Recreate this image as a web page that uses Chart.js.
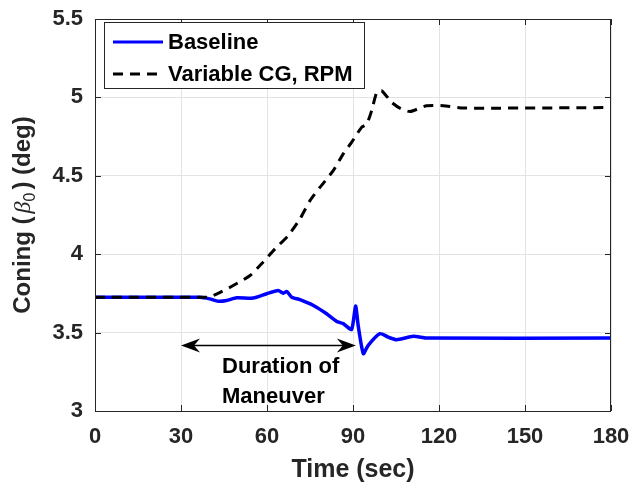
<!DOCTYPE html>
<html>
<head>
<meta charset="utf-8">
<script src="https://cdn.jsdelivr.net/npm/chart.js@4.4.0/dist/chart.umd.min.js"></script>
<style>
  html, body { margin: 0; padding: 0; background: #fff; }
  #wrap { width: 635px; height: 490px; }
</style>
</head>
<body>
<div id="wrap"><canvas id="coningChart" width="635" height="490"></canvas></div>
<script>
// Values
const baselineTime = [0, 36.6, 40, 43, 45.9, 49.4, 55.2, 59.9, 63.9, 65.7, 66.9, 68.6, 71.5, 76.2, 80.8, 84.3, 86.6, 89.5, 90.9, 91.8, 93.6, 95.3, 99.4, 102.3, 105.2, 111, 115.7, 180];
const baselineConing = [3.725, 3.725, 3.715, 3.70, 3.705, 3.722, 3.72, 3.748, 3.768, 3.751, 3.762, 3.726, 3.71, 3.673, 3.62, 3.571, 3.557, 3.52, 3.669, 3.546, 3.366, 3.419, 3.493, 3.471, 3.455, 3.476, 3.465, 3.465];

const variableTime = [0, 38, 40.1, 44, 48.2, 54.1, 58.1, 62.8, 67.4, 71.5, 75, 78.5, 83.1, 86.6, 89.5, 93, 94.8, 96.5, 98.3, 100, 103.5, 106.5, 109.9, 115.7, 121.5, 128.5, 180];
const variableConing = [3.725, 3.725, 3.728, 3.76, 3.80, 3.864, 3.939, 4.034, 4.119, 4.225, 4.342, 4.427, 4.533, 4.64, 4.713, 4.809, 4.83, 4.915, 5.032, 5.043, 4.968, 4.93, 4.91, 4.947, 4.947, 4.932, 4.935];

const xTicks = [0, 30, 60, 90, 120, 150, 180];
const yTicks = [3, 3.5, 4, 4.5, 5, 5.5];
const seriesLabels = ['Baseline', 'Variable CG, RPM'];

// "Duration of Maneuver" annotation
const arrowSpan = [30, 91];
const arrowLevel = 3.418;
const noteLines = ['Duration of', 'Maneuver'];
const noteX = 44.3;
const noteY = [3.28, 3.089];

const FONT = "'Liberation Sans', Arial, Helvetica, sans-serif";
const AXIS_COLOR = '#262626';

function toPoints(xs, ys) {
    return xs.map((x, i) => ({ x: x, y: ys[i] }));
}

// grid box, inward ticks, y title, annotation, legend
const decorations = {
    id: 'decorations',
    afterDatasetsDraw(chart) {
        const ctx = chart.ctx;
        const area = chart.chartArea;
        const xs = chart.scales.x;
        const ys = chart.scales.y;

        ctx.save();
        ctx.strokeStyle = AXIS_COLOR;
        ctx.lineWidth = 1;
        ctx.strokeRect(area.left + 0.5, area.top + 0.5, area.right - area.left - 1, area.bottom - area.top);

        const tick = 6;
        ctx.beginPath();
        xTicks.forEach(v => {
            const px = Math.round(xs.getPixelForValue(v)) + 0.5;
            ctx.moveTo(px, area.bottom); ctx.lineTo(px, area.bottom - tick);
            ctx.moveTo(px, area.top); ctx.lineTo(px, area.top + tick);
        });
        yTicks.forEach(v => {
            const py = Math.round(ys.getPixelForValue(v)) + 0.5;
            ctx.moveTo(area.left, py); ctx.lineTo(area.left + tick, py);
            ctx.moveTo(area.right, py); ctx.lineTo(area.right - tick, py);
        });
        ctx.stroke();

        // double arrow
        const ax0 = xs.getPixelForValue(arrowSpan[0]);
        const ax1 = xs.getPixelForValue(arrowSpan[1]);
        const ay = ys.getPixelForValue(arrowLevel);
        ctx.strokeStyle = '#000';
        ctx.fillStyle = '#000';
        ctx.lineWidth = 1.5;
        ctx.beginPath();
        ctx.moveTo(ax0 + 4, ay); ctx.lineTo(ax1 - 4, ay);
        ctx.stroke();
        const head = (tipX, dir) => {
            ctx.beginPath();
            ctx.moveTo(tipX, ay);
            ctx.lineTo(tipX + dir * 19, ay - 7);
            ctx.lineTo(tipX + dir * 13, ay);
            ctx.lineTo(tipX + dir * 19, ay + 7);
            ctx.closePath();
            ctx.fill();
        };
        head(ax0, 1);
        head(ax1, -1);

        ctx.font = 'bold 22px ' + FONT;
        ctx.textAlign = 'left';
        ctx.textBaseline = 'middle';
        noteLines.forEach((line, i) => {
            ctx.fillText(line, xs.getPixelForValue(noteX), ys.getPixelForValue(noteY[i]));
        });
        ctx.restore();
    },
    afterDraw(chart) {
        const ctx = chart.ctx;
        const area = chart.chartArea;

        // y axis title: Coning (β0) (deg)
        ctx.save();
        ctx.translate(30, (area.top + area.bottom) / 2);
        ctx.rotate(-Math.PI / 2);
        ctx.fillStyle = AXIS_COLOR;
        ctx.textBaseline = 'alphabetic';
        const parts = [
            { t: 'Coning (', f: 'bold 24px ' + FONT, dy: 0 },
            { t: '\u03B2', f: 'italic 24px "Liberation Serif", serif', dy: 0 },
            { t: '0', f: '16px ' + FONT, dy: 5 },
            { t: ') (deg)', f: 'bold 24px ' + FONT, dy: 0 }
        ];
        const gap = 3;
        let total = 0;
        parts.forEach(p => { ctx.font = p.f; p.w = ctx.measureText(p.t).width; total += p.w; });
        total += gap * 2;
        let cx = -total / 2;
        parts.forEach((p, i) => {
            ctx.font = p.f;
            ctx.fillText(p.t, cx, p.dy);
            cx += p.w + (i === 0 || i === 2 ? gap : 0);
        });
        ctx.restore();

        // legend box
        ctx.save();
        const lx = 104.5, ly = 22.5, lw = 260, lh = 66;
        ctx.fillStyle = '#fff';
        ctx.fillRect(lx, ly, lw, lh);
        ctx.strokeStyle = AXIS_COLOR;
        ctx.lineWidth = 1;
        ctx.strokeRect(lx, ly, lw, lh);
        const ds = chart.data.datasets;
        const rows = [42, 74];
        ctx.font = 'bold 22px ' + FONT;
        ctx.textBaseline = 'middle';
        ds.forEach((d, i) => {
            ctx.strokeStyle = d.borderColor;
            ctx.lineWidth = 3;
            ctx.setLineDash(d.borderDash || []);
            ctx.beginPath();
            ctx.moveTo(113, rows[i]);
            ctx.lineTo(163, rows[i]);
            ctx.stroke();
            ctx.setLineDash([]);
            ctx.fillStyle = '#000';
            ctx.fillText(d.label, 168, rows[i] + 1);
        });
        ctx.restore();
    }
};

document.addEventListener('DOMContentLoaded', () => {
    const ctx = document.getElementById('coningChart').getContext('2d');

    new Chart(ctx, {
        type: 'line',
        data: {
            datasets: [
                {
                    label: seriesLabels[0],
                    data: toPoints(baselineTime, baselineConing),
                    borderColor: '#0000ff',
                    borderWidth: 3.5,
                    pointRadius: 0,
                    tension: 0.2,
                    fill: false,
                    order: 1
                },
                {
                    label: seriesLabels[1],
                    data: toPoints(variableTime, variableConing),
                    borderColor: '#000000',
                    borderWidth: 3,
                    borderDash: [10, 7],
                    pointRadius: 0,
                    tension: 0.2,
                    fill: false,
                    order: 0
                }
            ]
        },
        options: {
            responsive: false,
            animation: false,
            devicePixelRatio: 1,
            layout: { padding: { top: 19, right: 24, left: 0, bottom: 0 } },
            plugins: {
                legend: { display: false },
                tooltip: { enabled: false }
            },
            scales: {
                x: {
                    type: 'linear',
                    min: 0,
                    max: 180,
                    afterBuildTicks: s => { s.ticks = xTicks.map(v => ({ value: v })); },
                    afterFit: s => { s.height = 79; s.paddingLeft = 0; s.paddingRight = 0; },
                    grid: { color: '#e3e3e3', tickLength: 0 },
                    border: { display: false },
                    ticks: {
                        padding: 13,
                        maxRotation: 0,
                        color: AXIS_COLOR,
                        font: { family: FONT, size: 22, weight: 'bold' }
                    },
                    title: {
                        display: true,
                        text: 'Time (sec)',
                        color: AXIS_COLOR,
                        padding: { top: 0, bottom: 5 },
                        font: { family: FONT, size: 25, weight: 'bold' }
                    }
                },
                y: {
                    min: 3,
                    max: 5.5,
                    afterBuildTicks: s => { s.ticks = yTicks.map(v => ({ value: v })); },
                    afterFit: s => { s.width = 95; s.paddingTop = 0; s.paddingBottom = 0; },
                    grid: { color: '#e3e3e3', tickLength: 0 },
                    border: { display: false },
                    ticks: {
                        padding: 12,
                        color: AXIS_COLOR,
                        font: { family: FONT, size: 22, weight: 'bold' },
                        callback: v => String(v)
                    }
                }
            }
        },
        plugins: [decorations]
    });
});
</script>
</body>
</html>
